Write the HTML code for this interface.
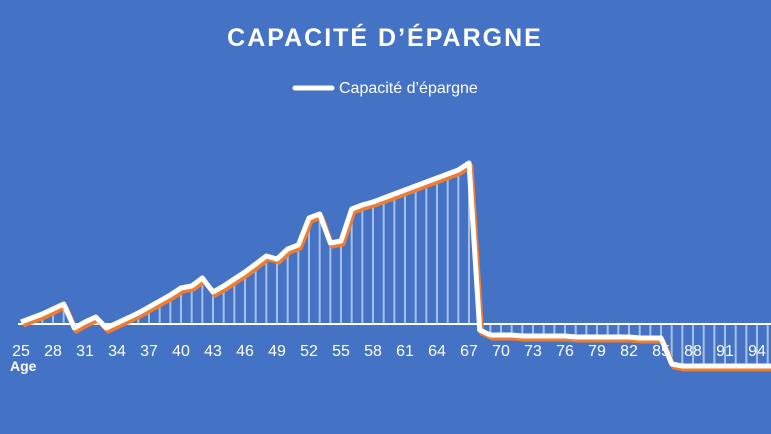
<!DOCTYPE html>
<html><head><meta charset="utf-8"><style>
body{margin:0;width:771px;height:434px;background:#4472c4;overflow:hidden;font-family:"Liberation Sans",sans-serif}
</style></head><body>
<svg id="s" width="771" height="434" xmlns="http://www.w3.org/2000/svg" style="position:absolute;left:0;top:0">
<text x="385" y="46" text-anchor="middle" fill="#fff" font-size="25" font-weight="bold" letter-spacing="2" font-family="Liberation Sans, sans-serif">CAPACITÉ D’ÉPARGNE</text>
<line x1="295" y1="88" x2="332" y2="88" stroke="#fff" stroke-width="5" stroke-linecap="round"/>
<text x="339" y="93" fill="#fff" font-size="16" font-family="Liberation Sans, sans-serif">Capacité d’épargne</text>
<g id="drops"></g>
<line x1="18" y1="324" x2="771" y2="324" stroke="#fff" stroke-width="2"/>
<g id="lines"></g>
<g fill="#fff" font-size="16" text-anchor="middle" font-family="Liberation Sans, sans-serif">
<text x="21" y="356">25</text><text x="53" y="356">28</text><text x="85" y="356">31</text><text x="117" y="356">34</text><text x="149" y="356">37</text><text x="181" y="356">40</text><text x="213" y="356">43</text><text x="245" y="356">46</text><text x="277" y="356">49</text><text x="309" y="356">52</text><text x="341" y="356">55</text><text x="373" y="356">58</text><text x="405" y="356">61</text><text x="437" y="356">64</text><text x="469" y="356">67</text><text x="501" y="356">70</text><text x="533" y="356">73</text><text x="565" y="356">76</text><text x="597" y="356">79</text><text x="629" y="356">82</text><text x="661" y="356">85</text><text x="693" y="356">88</text><text x="725" y="356">91</text><text x="757" y="356">94</text>
</g>
<text x="10" y="371" fill="#fff" font-size="14" font-weight="bold" font-family="Liberation Sans, sans-serif">Age</text>
</svg>
<script>
var ys={25:322,26:318,27:314,28:309,29:304,30:328,31:322,32:317,33:328,34:323,35:318,36:313,37:307,38:301,39:295,40:288,41:286,42:278,43:292,44:286,45:279,46:272,47:264,48:256,49:259,50:249,51:245,52:218,53:214,54:243,55:241,56:209,57:205,58:202,59:198,60:194,61:190,62:186,63:182,64:178,65:174,66:170,67:163,68:330};
for(var a=69;a<=85;a++)ys[a]=335+Math.round((a-69)/16*3);
for(var a=86;a<=97;a++)ys[a]=a==86?364:366;
var pts=[],ns='http://www.w3.org/2000/svg';
for(var a=25;a<=97;a++){var x=21+(a-25)*10.667,y=ys[a];pts.push(x.toFixed(1)+','+y);
 if(a>25&&a<97){var l=document.createElementNS(ns,'line');l.setAttribute('x1',x);l.setAttribute('x2',x);
  if(y<324){l.setAttribute('y1',y);l.setAttribute('y2',324);}
  else{l.setAttribute('y1',324);l.setAttribute('y2',y);}
  l.setAttribute('stroke','#fff');l.setAttribute('stroke-opacity','0.55');
  l.setAttribute('stroke-width','2');document.getElementById('drops').appendChild(l);}}
var g=document.getElementById('lines');
function pl(c,dx,dy){var p=document.createElementNS(ns,'polyline');p.setAttribute('points',pts.join(' '));p.setAttribute('fill','none');p.setAttribute('stroke',c);p.setAttribute('stroke-width','5');p.setAttribute('stroke-linejoin','round');p.setAttribute('transform','translate('+dx+','+dy+')');g.appendChild(p);}
pl('#ed7d31',2,3);pl('#fff',0,0);
</script>
</body></html>
